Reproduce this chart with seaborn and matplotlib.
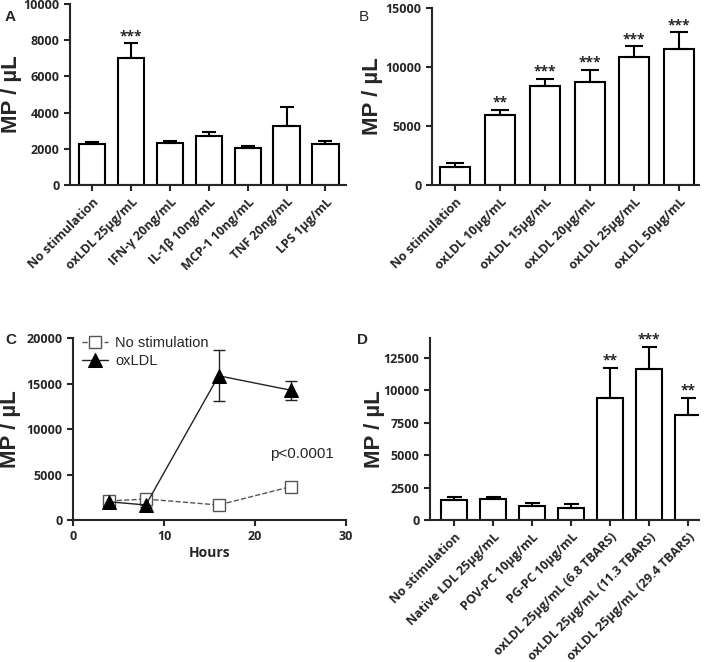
import numpy as np
import pandas as pd
import matplotlib
matplotlib.use("Agg")
import matplotlib.pyplot as plt
import seaborn as sns

# Panel A: stimuli
a_labels = ["No stimulation", "oxLDL 25µg/mL", "IFN-γ 20ng/mL", "IL-1β 10ng/mL",
            "MCP-1 10ng/mL", "TNF 20ng/mL", "LPS 1µg/mL"]
a_means = [2250, 7000, 2310, 2710, 2040, 3280, 2270]
a_errs = [100, 830, 130, 220, 140, 1050, 180]
a_stars = ["", "***", "", "", "", "", ""]

# Panel B: oxLDL dose
b_labels = ["No stimulation", "oxLDL 10µg/mL", "oxLDL 15µg/mL", "oxLDL 20µg/mL",
            "oxLDL 25µg/mL", "oxLDL 50µg/mL"]
b_means = [1500, 5920, 8400, 8720, 10810, 11490]
b_errs = [340, 450, 600, 1040, 930, 1470]
b_stars = ["", "**", "***", "***", "***", "***"]

# Panel C: time course
hours = [4, 8, 16, 24]
c_nostim = [2100, 2300, 1650, 3680]
c_oxldl = [2000, 1650, 15850, 14250]
c_oxldl_err = [250, 200, 2800, 1050]

# Panel D: oxidised lipids
d_labels = ["No stimulation", "Native LDL 25µg/mL", "POV-PC 10µg/mL", "PG-PC 10µg/mL",
            "oxLDL 25µg/mL (6.8 TBARS)", "oxLDL 25µg/mL (11.3 TBARS)",
            "oxLDL 25µg/mL (29.4 TBARS)"]
d_means = [1540, 1610, 1070, 920, 9400, 11600, 8070]
d_errs = [200, 180, 260, 310, 2300, 1720, 1330]
d_stars = ["", "", "", "", "**", "***", "**"]

sns.set_style("ticks")
plt.rcParams["font.family"] = ["Open Sans", "DejaVu Sans"]
plt.rcParams["axes.linewidth"] = 1.5
plt.rcParams["xtick.major.width"] = 1.5
plt.rcParams["ytick.major.width"] = 1.5
plt.rcParams["xtick.major.size"] = 4
plt.rcParams["ytick.major.size"] = 4

fig = plt.figure(figsize=(7.09, 6.62), dpi=100)
axA = fig.add_axes([0.0987, 0.7205, 0.390, 0.2735])
axB = fig.add_axes([0.609, 0.7205, 0.377, 0.2675])
axC = fig.add_axes([0.103, 0.2145, 0.385, 0.2749])
axD = fig.add_axes([0.6065, 0.2145, 0.3795, 0.2749])

label_font = dict(family=["Liberation Sans", "DejaVu Sans"], fontsize=16, fontweight="bold")
sans = ["Liberation Sans", "DejaVu Sans"]


def bar_panel(ax, labels, means, errs, stars, ylim, yticks, xlim, capsize, lab_x):
    df = pd.DataFrame({"group": labels, "value": means})
    sns.barplot(data=df, x="group", y="value", ax=ax, color="white",
                edgecolor="black", linewidth=1.5, width=0.67, errorbar=None)
    x = np.arange(len(labels))
    ax.errorbar(x, means, yerr=[np.zeros(len(errs)), errs], fmt="none",
                ecolor="black", elinewidth=1.5, capsize=capsize, capthick=1.5,
                zorder=1)
    for xi, m, e, s in zip(x, means, errs, stars):
        if s:
            ax.annotate(s, (xi, m + e), xytext=(0, 0), textcoords="offset points",
                        ha="center", va="bottom", fontsize=10, fontweight="bold")
    ax.set_ylim(*ylim)
    ax.set_yticks(yticks)
    ax.set_xlim(*xlim)
    ax.set_xlabel("")
    ax.set_ylabel("MP / µL", **label_font)
    ax.yaxis.set_label_coords(lab_x, 0.5)
    ax.set_xticks(x)
    ax.set_xticklabels(labels, rotation=45, ha="right", rotation_mode="anchor",
                       fontsize=9, fontweight="bold")
    ax.tick_params(axis="y", labelsize=9)
    for t in ax.get_yticklabels():
        t.set_fontweight("bold")
    sns.despine(ax=ax)


bar_panel(axA, a_labels, a_means, a_errs, a_stars, (0, 10000),
          [0, 2000, 4000, 6000, 8000, 10000], (-0.56, 6.54), 4.7, -0.173)
bar_panel(axB, b_labels, b_means, b_errs, b_stars, (0, 15000),
          [0, 5000, 10000, 15000], (-0.53, 5.45), 6.5, -0.184)
bar_panel(axD, d_labels, d_means, d_errs, d_stars, (0, 14000),
          [0, 2500, 5000, 7500, 10000, 12500], (-0.62, 6.28), 5.4, -0.167)

# Panel C
dfc = pd.DataFrame({"Hours": hours * 2,
                    "MP": c_nostim + c_oxldl,
                    "group": ["No stimulation"] * 4 + ["oxLDL"] * 4})
sns.lineplot(data=dfc[dfc.group == "No stimulation"], x="Hours", y="MP", ax=axC,
             color="#555555", linestyle="--", linewidth=1, marker="s",
             markersize=9, markerfacecolor="white", markeredgecolor="#555555",
             markeredgewidth=1, label="No stimulation")
sns.lineplot(data=dfc[dfc.group == "oxLDL"], x="Hours", y="MP", ax=axC,
             color="#222222", linestyle="-", linewidth=1, marker="^",
             markersize=10, markerfacecolor="black", markeredgecolor="black",
             label="oxLDL")
axC.errorbar(hours, c_oxldl, yerr=c_oxldl_err, fmt="none", ecolor="#222222",
             elinewidth=1, capsize=4, capthick=1, zorder=1)
axC.set_xlim(0, 30)
axC.set_ylim(0, 20000)
axC.set_xticks([0, 10, 20, 30])
axC.set_yticks([0, 5000, 10000, 15000, 20000])
axC.set_xlabel("Hours", fontsize=10, fontweight="bold", labelpad=2)
axC.set_ylabel("MP / µL", **label_font)
axC.yaxis.set_label_coords(-0.19, 0.5)
axC.tick_params(labelsize=9)
for t in axC.get_xticklabels() + axC.get_yticklabels():
    t.set_fontweight("bold")
axC.text(21.6, 7200, "p<0.0001", fontsize=11, family=sans, va="center")
leg = axC.legend(loc="upper left", frameon=False, fontsize=10.5,
                 bbox_to_anchor=(0.0, 1.06), handlelength=1.8, handletextpad=0.5,
                 labelspacing=0.3, borderaxespad=0.2)
for t in leg.get_texts():
    t.set_family(sans)
sns.despine(ax=axC)

# panel letters
fig.text(0.007, 0.985, "A", fontsize=11, fontweight="bold", va="top", family=sans)
fig.text(0.506, 0.985, "B", fontsize=11, va="top", family=sans)
fig.text(0.007, 0.497, "C", fontsize=11, fontweight="bold", va="top", family=sans)
fig.text(0.504, 0.497, "D", fontsize=11, fontweight="bold", va="top", family=sans)

fig.savefig("out.png", dpi=100)
